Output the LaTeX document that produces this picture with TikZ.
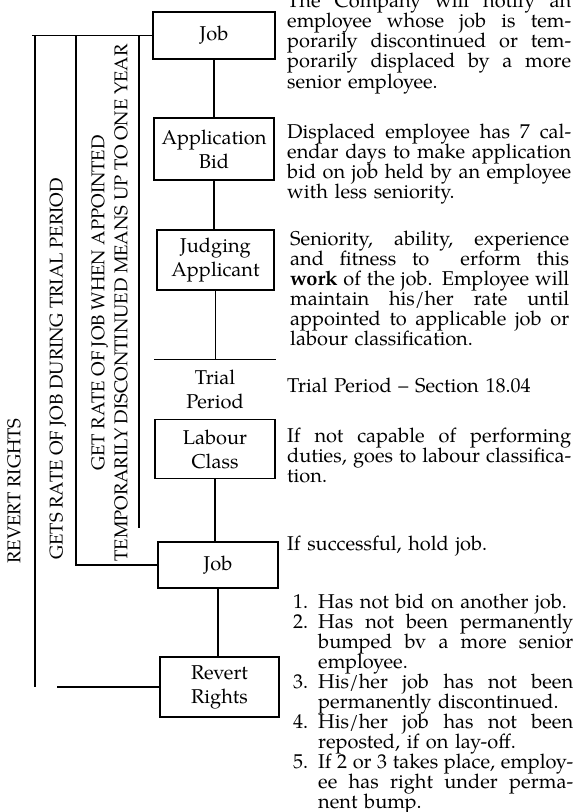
\documentclass[tikz,border=0pt]{standalone}
\usepackage{fontspec}
\setmainfont{TeX Gyre Pagella}
\newcommand\boxfont{\fontsize{20bp}{24bp}\selectfont}
\newcommand\descfont{\fontsize{20bp}{20bp}\selectfont\lineskiplimit=-100bp\relax}
\newcommand\vfont{\fontsize{18.5bp}{23bp}\selectfont}
\newcommand\jl[2][284bp]{\makebox[#1][s]{\spaceskip=0pt\relax\xspaceskip=0pt\relax #2}}
\newcommand\num[1]{\makebox[25bp][l]{#1}}
\newcommand\ind{\hspace*{25bp}}
\tikzset{
  box/.style={draw, line width=1.2bp, minimum width=120bp, inner sep=0pt, align=center, font=\boxfont},
  conn/.style={line width=1.2bp},
  vtext/.style={rotate=90, font=\vfont, inner sep=0pt, align=center},
  desc/.style={anchor=base west, inner sep=0pt, text width=284bp, align=left, font=\descfont}
}
\begin{document}
\begin{tikzpicture}[x=1bp,y=-1bp]
\useasboundingbox (0,0) rectangle (581,812);
\clip (0,0) rectangle (581,812);
% boxes
\node[box, minimum width=122bp, minimum height=47bp] (job1) at (214,35.5) {Job};
\node[box, minimum height=62bp] (app) at (214,149) {Application\\Bid};
\node[box, minimum width=117bp, minimum height=60bp] (judge) at (215.5,260) {Judging\\Applicant};
\node[box, draw=none, minimum height=58bp] (trial) at (215,389) {Trial\\Period};
\node[box, minimum height=59bp] (labour) at (215,449) {Labour\\Class};
\node[box, minimum height=46bp] (job2) at (218,565) {Job};
\node[box, minimum width=119bp, minimum height=60bp] (revert) at (219.5,687) {Revert\\Rights};
\draw[conn] (trial.north west) -- (trial.north east);
% vertical connectors
\draw[conn] (job1.south) -- (job1.south |- app.north);
\draw[conn] (app.south) -- (app.south |- judge.north);
\draw[conn] (judge.south) -- (judge.south |- trial.north);
\draw[conn] (labour.south) -- (labour.south |- job2.north);
\draw[conn] (job2.south) -- (job2.south |- revert.north);
% left brackets
\coordinate (topend) at (32,35.5);
\coordinate (v1t) at (35,35.5);
\coordinate (v1b) at (35,687);
\coordinate (v2t) at (76,35.5);
\coordinate (v2b) at (76,565);
\coordinate (v3t) at (139,35.5);
\coordinate (v3b) at (139,528);
\coordinate (rrstart) at (57,687);
\draw[conn] (job1.west) -- (topend);
\draw[conn] (v1t) -- (v1b);
\draw[conn] (v2t) -- (v2b) -- (job2.west);
\draw[conn] (v3t) -- (v3b);
\draw[conn] (rrstart) -- (revert.west);
% vertical labels
\node[vtext] (rr) at (14,491) {REVERT RIGHTS};
\node[vtext] (gets) at (58,369) {GETS RATE OF JOB DURING TRIAL PERIOD};
\node[vtext] (get) at (109.5,303) {GET RATE OF JOB WHEN APPOINTED\\TEMPORARILY DISCONTINUED MEANS UP TO ONE YEAR};
% descriptions
\node[desc] (d1) at (287,8) {\jl{The Company will notify an}\\\jl{employee whose job is tem-}\\\jl{porarily discontinued or tem-}\\\jl{porarily displaced by a more}\\senior employee.};
\node[desc] (d2) at (287,138) {\jl{Displaced employee has 7 cal-}\\\jl{endar days to make application}\\\jl{bid on job held by an employee}\\with less seniority.};
\node[desc, text width=279bp] (d3) at (290,245) {\jl[279bp]{Seniority, ability, experience}\\\jl[279bp]{and fitness to \ erform this}\\\jl[279bp]{\textbf{work} of the job. Employee will}\\\jl[279bp]{maintain his/her rate until}\\\jl[279bp]{appointed to applicable job or}\\labour classification.};
\node[desc] (d4) at (287,392) {Trial Period -- Section 18.04};
\node[desc] (d5) at (287,442) {\jl{If not capable of performing}\\\jl{duties, goes to labour classifica-}\\tion.};
\node[desc] (d6) at (287,550) {If successful, hold job.};
\node[desc, text width=280bp] (d7) at (293,608) {\num{1.}Has not bid on another job.\\
\num{2.}\jl[255bp]{Has not been permanently}\\
\ind\jl[255bp]{bumped bv a more senior}\\
\ind employee.\\
\num{3.}\jl[255bp]{His/her job has not been}\\
\ind permanently discontinued.\\
\num{4.}\jl[255bp]{His/her job has not been}\\
\ind reposted, if on lay-off.\\
\num{5.}\jl[255bp]{If 2 or 3 takes place, employ-}\\
\ind\jl[255bp]{ee has right under perma-}\\
\ind nent bump.};
\end{tikzpicture}
\end{document}
